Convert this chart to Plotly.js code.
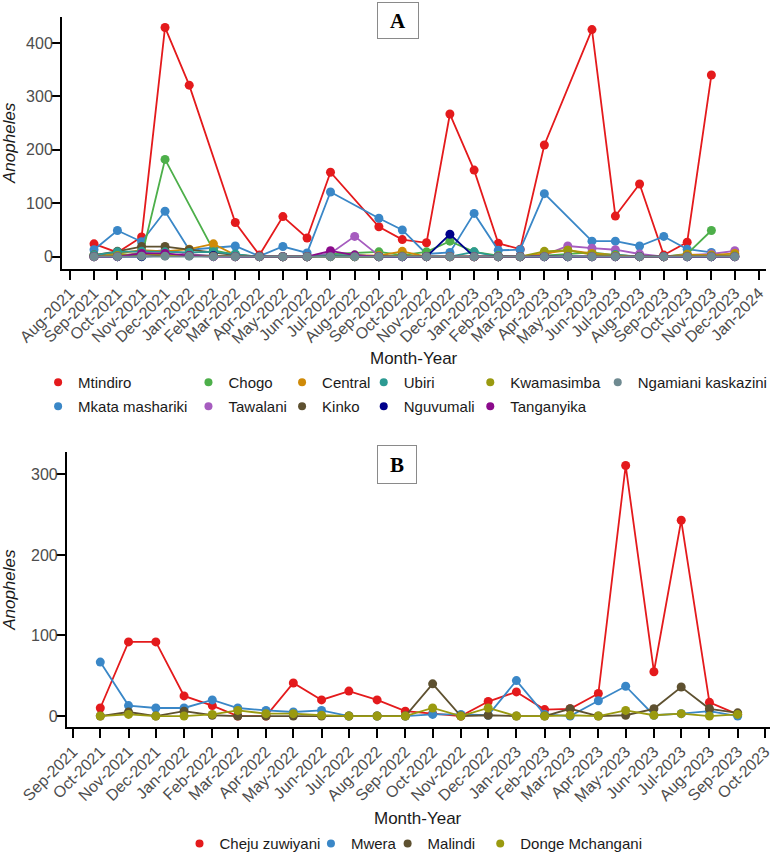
<!DOCTYPE html>
<html>
<head>
<meta charset="utf-8">
<script src="https://cdn.plot.ly/plotly-3.0.1.min.js"></script>
<style>
  html, body { margin: 0; padding: 0; background: #fff; }
  #chart { width: 778px; height: 865px; }
</style>
</head>
<body>
<div id="chart"></div>
<script>
// ---- Panel A: monthly Anopheles counts per site (Sep-2021 .. Dec-2023) ----
const monthsA = [
  '2021-09-01','2021-10-01','2021-11-01','2021-12-01',
  '2022-01-01','2022-02-01','2022-03-01','2022-04-01','2022-05-01','2022-06-01',
  '2022-07-01','2022-08-01','2022-09-01','2022-10-01','2022-11-01','2022-12-01',
  '2023-01-01','2023-02-01','2023-03-01','2023-04-01','2023-05-01','2023-06-01',
  '2023-07-01','2023-08-01','2023-09-01','2023-10-01','2023-11-01','2023-12-01'
];
const mtindiro       = [24, 8, 37, 429, 321, null, 64, 3, 75, 35, 158, null, 56, 32, 26, 267, 162, 25, 14, 209, null, 425, 76, 136, 3, 27, 340, null];
const mkataMashariki = [13, 49, 28, 85, 13, 16, 20, 1, 19, 7, 121, null, 72, 50, 5, 8, 81, 12, 13, 118, null, 29, 29, 20, 38, 14, 8, null];
const chogo          = [2, 6, 0, 182, null, 12, 4, 0, 0, 0, 5, null, 9, 3, 9, 29, 9, 2, 0, 2, null, 8, 3, 0, 0, 5, 49, null];
const tawalani       = [0, 0, 8, 12, 5, 0, 0, 0, 0, 0, 6, 38, 2, 0, 0, 0, 0, 0, 0, 3, 20, 16, 13, 5, 0, 3, 5, 11];
const central        = [3, 6, 12, 10, 14, 24, 3, 0, 0, 0, 2, 3, 2, 10, 0, 0, 0, 0, 0, 6, 12, 6, 3, 0, 0, 4, 3, 6];
const kinko          = [3, 10, 19, 19, 13, 8, 3, 0, 0, 0, 2, 0, 0, 0, 0, 0, 0, 0, 0, 0, 0, 0, 0, 0, 0, 0, 0, 0];
const ubiri          = [3, 9, 10, 9, 8, 9, 5, 0, 0, 0, 3, 3, 0, 0, 0, 0, 9, 0, 0, 0, 0, 0, 4, 0, 0, 0, 0, null];
const nguvumali      = [0, 0, 0, 2, 2, 2, 0, 0, 0, 0, 0, 0, 0, 0, 0, 42, 0, 0, 0, 0, 0, 0, 0, 0, 0, 0, 0, 0];
const kwamasimba     = [0, 2, 5, 3, 2, 1, 0, 0, 0, 0, 0, 0, 0, 2, 0, 0, 0, 0, 0, 10, 12, 4, 2, 0, 0, 2, 2, 3];
const tanganyika     = [0, 0, 6, 6, 2, 0, 0, 0, 0, 0, 11, 3, 0, 0, 0, 0, 0, 0, 0, 0, 0, 0, 0, 0, 0, 0, 0, 0];
const ngamianiKask   = [0, 0, 1, 1, 1, 0, 0, 0, 0, 0, 0, 0, 0, 0, 0, 0, 0, 0, 0, 0, 0, 0, 0, 0, 0, 0, 0, 0];

// ---- Panel B: monthly Anopheles counts per site (Oct-2021 .. Sep-2023) ----
const monthsB = [
  '2021-10-01','2021-11-01','2021-12-01',
  '2022-01-01','2022-02-01','2022-03-01','2022-04-01','2022-05-01','2022-06-01',
  '2022-07-01','2022-08-01','2022-09-01','2022-10-01','2022-11-01','2022-12-01',
  '2023-01-01','2023-02-01','2023-03-01','2023-04-01','2023-05-01','2023-06-01',
  '2023-07-01','2023-08-01','2023-09-01'
];
const chejuZuwiyani  = [10, 92, 92, 25, 13, 0, 0, 41, 20, 31, 20, 6, 3, 0, 18, 30, 8, 9, 28, 311, 55, 243, 17, 2];
const mwera          = [67, 13, 10, 10, 20, 10, 7, 5, 7, 0, 0, 0, 2, 2, 1, 44, 2, 0, 19, 37, 1, 3, 6, 0];
const malindi        = [0, 5, 0, 6, 1, 0, 0, 0, 0, 0, 0, 0, 40, 0, 1, 0, 0, 9, 0, 1, 9, 36, 9, 4];
const dongeMchangani = [0, 2, 0, 0, 2, 7, 3, 3, 1, 0, 0, 0, 10, 0, 10, 0, 0, 1, 0, 7, 1, 3, 0, 2];

// Site names, colours and legend slots
const sitesA = [
  ['Mtindiro', mtindiro, '#E41A1C'],
  ['Mkata mashariki', mkataMashariki, '#3A87C7'],
  ['Chogo', chogo, '#4DAF4A'],
  ['Tawalani', tawalani, '#A65CBF'],
  ['Central', central, '#CF8A08'],
  ['Kinko', kinko, '#5E5130'],
  ['Ubiri', ubiri, '#2C9A92'],
  ['Nguvumali', nguvumali, '#00008B'],
  ['Kwamasimba', kwamasimba, '#9A9A10'],
  ['Tanganyika', tanganyika, '#8B0A8B'],
  ['Ngamiani kaskazini', ngamianiKask, '#6F8A91']
];
const sitesB = [
  ['Cheju zuwiyani', chejuZuwiyani, '#E41A1C'],
  ['Mwera', mwera, '#3A87C7'],
  ['Malindi', malindi, '#5E5130'],
  ['Donge Mchangani', dongeMchangani, '#9A9A10']
];

// Page geometry (pixels) and helpers converting to paper fractions
const W = 778, H = 865, ML = 62, MR = 5, MT = 17, MB = 137;
const PW = W - ML - MR, PH = H - MT - MB;
const pxX = p => (p - ML) / PW;
const pxY = p => (H - MB - p) / PH;

// Legend entry placement: [text-start x, row y] for every site
const legendSpotsA = [[75, 383], [75, 407], [226, 383], [226, 407], [320, 383], [320, 407],
                      [402, 383], [402, 407], [509, 383], [509, 407], [637, 383]];
const legendSpotsB = [[217, 845], [349, 845], [426, 845], [519, 845]];

const traces = [];
const layoutLegends = {};
let legendIdx = 0;

function addSite(site, months, xa, ya, spot) {
  const [name, values, color] = site;
  traces.push({
    type: 'scatter', mode: 'lines+markers', name: name,
    x: months, y: values, xaxis: xa, yaxis: ya,
    connectgaps: true, showlegend: false, hoverinfo: 'x+y+name',
    line: { color: color, width: 1.8 },
    marker: { color: color, size: 9 }
  });
  legendIdx += 1;
  const key = legendIdx === 1 ? 'legend' : 'legend' + legendIdx;
  traces.push({
    type: 'scatter', mode: 'markers', name: name,
    x: [null], y: [null], xaxis: xa, yaxis: ya,
    showlegend: true, legend: key, hoverinfo: 'skip',
    marker: { color: color, size: 8 }
  });
  layoutLegends[key] = {
    x: pxX(spot[0] - 37), y: pxY(spot[1]),
    xanchor: 'left', yanchor: 'middle',
    orientation: 'v', bgcolor: 'rgba(0,0,0,0)', borderwidth: 0,
    font: { family: 'Liberation Sans, Arial, sans-serif', size: 15, color: '#1a1a1a' },
    itemclick: false, itemdoubleclick: false
  };
}

sitesA.forEach((s, i) => addSite(s, monthsA, 'x', 'y', legendSpotsA[i]));
sitesB.forEach((s, i) => addSite(s, monthsB, 'x2', 'y2', legendSpotsB[i]));

const axisBase = {
  showline: true, linecolor: '#000', linewidth: 2,
  ticks: 'outside', ticklen: 9, tickwidth: 1.5, tickcolor: '#000',
  showgrid: false, zeroline: false, fixedrange: true, automargin: false
};
const tickFontX = { family: 'Liberation Sans, Arial, sans-serif', size: 16, color: '#4D4D4D' };
const tickFontY = { family: 'Liberation Sans, Arial, sans-serif', size: 16, color: '#4D4D4D' };
const titleFont = { family: 'Liberation Sans, Arial, sans-serif', size: 17, color: '#1a1a1a' };

const xAxisCommon = {
  type: 'date', tickmode: 'linear', dtick: 'M1', tickformat: '%b-%Y',
  tickangle: -45, tickfont: tickFontX, ticklabelstandoff: -2
};
const yAxisCommon = {
  tickmode: 'linear', tick0: 0, dtick: 100, tickfont: tickFontY, ticklabelstandoff: -5
};

const layout = Object.assign({
  width: W, height: H,
  margin: { l: ML, r: MR, t: MT, b: MB, pad: 0 },
  paper_bgcolor: '#fff', plot_bgcolor: '#fff',
  font: { family: 'Liberation Sans, Arial, sans-serif' },
  xaxis: Object.assign({}, axisBase, xAxisCommon, {
    domain: [0, pxX(769)], anchor: 'y',
    range: ['2021-07-22', '2024-01-10'], tick0: '2021-08-01'
  }),
  yaxis: Object.assign({}, axisBase, yAxisCommon, {
    domain: [pxY(269), 1], anchor: 'x', range: [-22.4, 448.6],
    title: { text: '<i>Anopheles</i>', font: titleFont, standoff: 11 }
  }),
  xaxis2: Object.assign({}, axisBase, xAxisCommon, {
    domain: [pxX(67), 1], anchor: 'y2',
    range: ['2021-08-25 10:00', '2023-10-06 12:00'], tick0: '2021-09-01'
  }),
  yaxis2: Object.assign({}, axisBase, yAxisCommon, {
    domain: [0, pxY(453)], anchor: 'x2', range: [-13.6, 327.3],
    title: { text: '<i>Anopheles</i>', font: titleFont, standoff: 11 }
  }),
  annotations: [
    { text: 'Month-Year', xref: 'paper', yref: 'paper', x: pxX(415.5), y: pxY(359),
      xanchor: 'center', yanchor: 'middle', showarrow: false, font: titleFont },
    { text: 'Month-Year', xref: 'paper', yref: 'paper', x: pxX(420), y: pxY(820),
      xanchor: 'center', yanchor: 'middle', showarrow: false, font: titleFont },
    { text: '<b>A</b>', xref: 'paper', yref: 'paper', x: pxX(399), y: pxY(20.5),
      xanchor: 'center', yanchor: 'middle', showarrow: false,
      font: { family: 'Liberation Serif, Times New Roman, serif', size: 21, color: '#000' },
      width: 38, height: 33, borderpad: 1, bordercolor: '#8a8a8a', borderwidth: 1, bgcolor: '#fff' },
    { text: '<b>B</b>', xref: 'paper', yref: 'paper', x: pxX(398), y: pxY(465.5),
      xanchor: 'center', yanchor: 'middle', showarrow: false,
      font: { family: 'Liberation Serif, Times New Roman, serif', size: 21, color: '#000' },
      width: 36, height: 35, borderpad: 1, bordercolor: '#8a8a8a', borderwidth: 1, bgcolor: '#fff' }
  ]
}, layoutLegends);

Plotly.newPlot('chart', traces, layout, { displayModeBar: false });
</script>
</body>
</html>
